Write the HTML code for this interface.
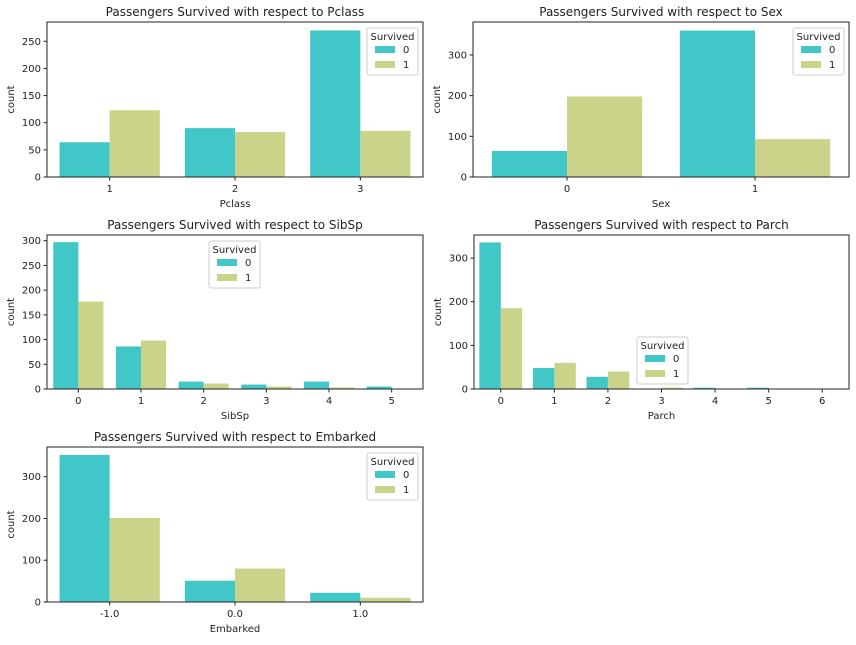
<!DOCTYPE html>
<html><head><meta charset="utf-8"><style>
body{margin:0;background:#fff}
svg{font-family:"DejaVu Sans","Liberation Sans",sans-serif}
</style></head><body>
<svg id="fig" width="856" height="640"></svg>
<script>
const pclassCats=["1","2","3"];
const pclassS0=[64,90,270];
const pclassS1=[123,83,85];
const pclassTicks=[0,50,100,150,200,250];
const sexCats=["0","1"];
const sexS0=[64,360];
const sexS1=[198,93];
const sexTicks=[0,100,200,300];
const sibspCats=["0","1","2","3","4","5"];
const sibspS0=[297,86,15,9,15,5];
const sibspS1=[177,98,11,5,3,0];
const sibspTicks=[0,50,100,150,200,250,300];
const parchCats=["0","1","2","3","4","5","6"];
const parchS0=[336,48,28,0,3,3,1];
const parchS1=[185,60,40,3,0,0,0];
const parchTicks=[0,100,200,300];
const embCats=["-1.0","0.0","1.0"];
const embS0=[352,51,22];
const embS1=[201,80,10];
const embTicks=[0,100,200,300];

const NS="http://www.w3.org/2000/svg";
const svg=document.getElementById('fig');
function mk(tag,attrs,parent){const e=document.createElementNS(NS,tag);for(const k in attrs)e.setAttribute(k,attrs[k]);(parent||svg).appendChild(e);return e;}
const C0="#41c7c7",C1="#cbd38b";
function plot(o){
  const g=mk('g',{});
  
  
  const L=o.l,R=o.r,T=o.t,B=o.b;
  const n=o.cats.length,band=(R-L)/n;
  const y=v=>B-(v/o.ymax)*(B-T);
  const xc=i=>L+band*(i+0.5);
  const bw=band*0.4;
  for(let i=0;i<n;i++){
    [[o.s0,C0,-1],[o.s1,C1,0]].forEach(([s,c,off],k)=>{
      const v=s[i];if(v<=0)return;
      const r=mk('rect',{x:xc(i)+off*bw,y:y(v),width:bw,height:B-y(v),fill:c},g);
      
      
    });
  }
  const fr=mk('rect',{x:L,y:T,width:R-L,height:B-T,fill:'none',stroke:'#222','stroke-width':1},g);
  
  
  o.ticks.forEach(t=>{
    mk('line',{x1:L-3.5,x2:L,y1:y(t),y2:y(t),stroke:'#222'},g);
    const tx=mk('text',{x:L-6,y:y(t)+3.5,'font-size':10,'text-anchor':'end',fill:'#222'},g);
    tx.textContent=t;
    
    
  });
  o.cats.forEach((c,i)=>{
    mk('line',{x1:xc(i),x2:xc(i),y1:B,y2:B+3.5,stroke:'#222'},g);
    const tx=mk('text',{x:xc(i),y:B+15,'font-size':10,'text-anchor':'middle',fill:'#222'},g);
    tx.textContent=c;
    
    
  });
  const tt=mk('text',{x:(L+R)/2,y:T-6,'font-size':12,'text-anchor':'middle',fill:'#222'},g);
  tt.textContent='Passengers Survived with respect to '+o.label;
  
  
  const xl=mk('text',{x:(L+R)/2,y:B+30,'font-size':10,'text-anchor':'middle',fill:'#222'},g);
  xl.textContent=o.label;
  
  
  const yl=mk('text',{x:0,y:0,'font-size':10,'text-anchor':'middle',fill:'#222',transform:`translate(${L-33},${(T+B)/2}) rotate(-90)`},g);
  yl.textContent='count';
  
  
  const lg=mk('g',{transform:`translate(${o.lx},${o.ly})`},g);
  
  
  mk('rect',{x:0,y:0,width:51,height:47,rx:2,fill:'#fff','fill-opacity':0.8,stroke:'#ccc'},lg);
  const lt=mk('text',{x:25.5,y:12,'font-size':10,'text-anchor':'middle',fill:'#222'},lg);lt.textContent='Survived';
  mk('rect',{x:8,y:18,width:20,height:7,fill:C0},lg);
  const a=mk('text',{x:36,y:25,'font-size':10,fill:'#222'},lg);a.textContent='0';
  mk('rect',{x:8,y:33,width:20,height:7,fill:C1},lg);
  const b=mk('text',{x:36,y:40,'font-size':10,fill:'#222'},lg);b.textContent='1';
}
plot({name:'pclass',label:'Pclass',cats:pclassCats,s0:pclassS0,s1:pclassS1,ticks:pclassTicks,ymax:285.5,l:47,r:423,t:22,b:177,lx:367,ly:28});
plot({name:'sex',label:'Sex',cats:sexCats,s0:sexS0,s1:sexS1,ticks:sexTicks,ymax:381,l:473,r:849,t:22,b:177,lx:793,ly:28});
plot({name:'sibsp',label:'SibSp',cats:sibspCats,s0:sibspS0,s1:sibspS1,ticks:sibspTicks,ymax:311.5,l:47,r:423,t:235,b:389,lx:209,ly:241});
plot({name:'parch',label:'Parch',cats:parchCats,s0:parchS0,s1:parchS1,ticks:parchTicks,ymax:353,l:474,r:849,t:235,b:389,lx:637,ly:337});
plot({name:'embarked',label:'Embarked',cats:embCats,s0:embS0,s1:embS1,ticks:embTicks,ymax:371,l:47,r:423,t:447,b:602,lx:367,ly:453});
</script>
</body></html>
